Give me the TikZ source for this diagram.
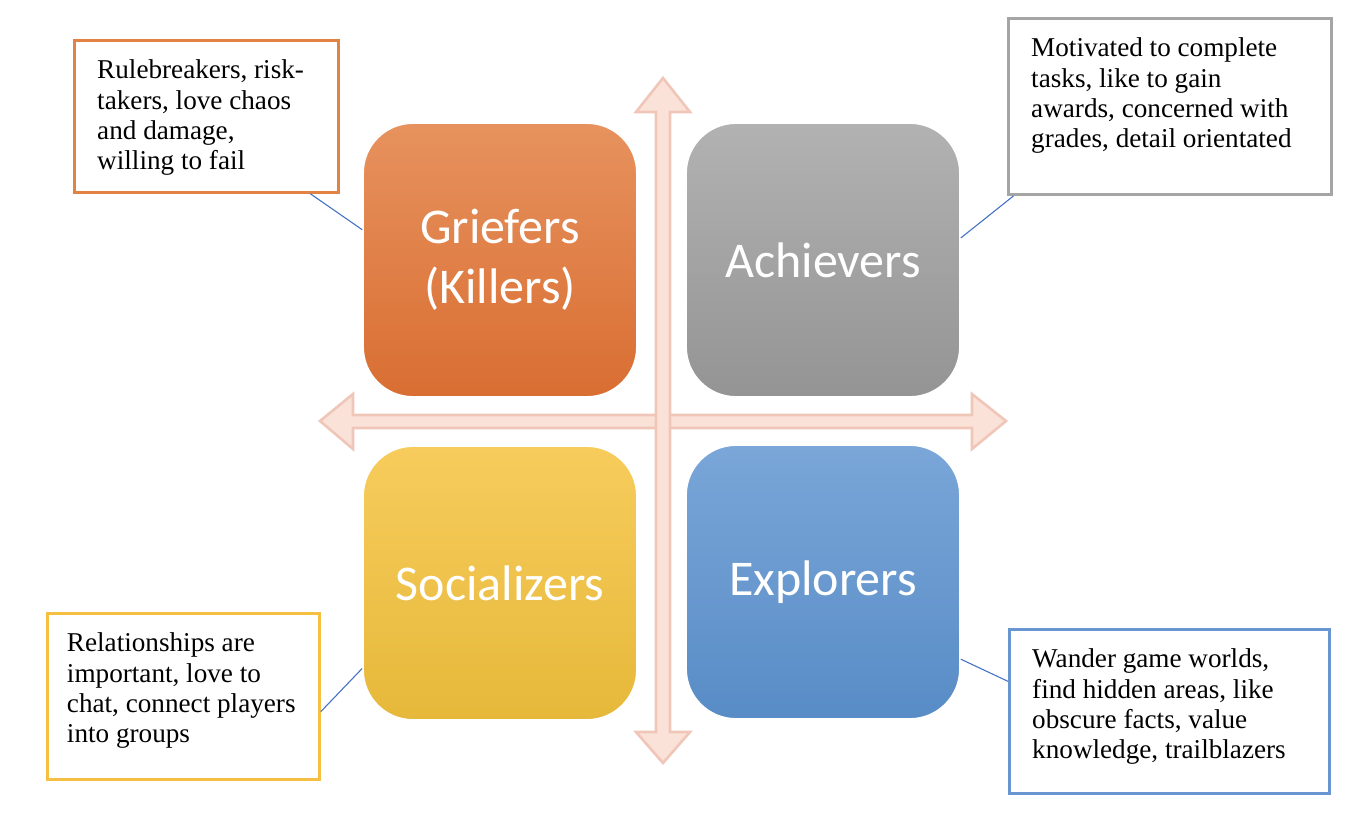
\documentclass[tikz,border=0pt]{standalone}
\usepackage{fontspec}
\setmainfont{Liberation Serif}
\newfontfamily\tilefont{Carlito}
\usepackage{tikz}
\usetikzlibrary{positioning,calc}

\definecolor{griefTop}{RGB}{231,146,94}
\definecolor{griefBot}{RGB}{217,110,50}
\definecolor{achvTop}{RGB}{178,178,178}
\definecolor{achvBot}{RGB}{148,148,148}
\definecolor{socTop}{RGB}{247,204,92}
\definecolor{socBot}{RGB}{230,184,58}
\definecolor{explTop}{RGB}{122,166,216}
\definecolor{explBot}{RGB}{88,140,198}
\definecolor{griefLine}{RGB}{226,130,68}
\definecolor{achvLine}{RGB}{165,165,165}
\definecolor{socLine}{RGB}{245,192,66}
\definecolor{explLine}{RGB}{105,150,208}
\definecolor{arrowFill}{RGB}{250,226,217}
\definecolor{arrowEdge}{RGB}{240,198,184}
\definecolor{linkBlue}{RGB}{68,114,196}

\newcommand{\tilenode}[5]{\node [tile, top color=#3, bottom color=#4] (#1) at (#2) {#5}}
\newcommand{\notenode}[6]{\node [note, #3] (#1) at (#2) {\parbox[t][#5][t]{#4}{\raggedright #6}}}

\begin{document}
\begin{tikzpicture}[x=0.46pt, y=-0.46pt,
  tile/.style={rounded corners=23pt, minimum width=126pt, minimum height=126pt,
    draw=white!40!#1, line width=0.8pt, text=white, align=center,
    font=\tilefont\fontsize{23}{27.6}\selectfont},
  note/.style={anchor=north west, fill=white, line width=1.3pt,
    inner xsep=10.5pt, inner ysep=9pt, font=\fontsize{12.5}{13.95}\selectfont},
  link/.style={draw=linkBlue, line width=0.5pt},
  axis/.style={fill=arrowFill, draw=arrowEdge, line width=1.2pt, line join=miter}]

\useasboundingbox (0,0) rectangle (1364,824);

% axes
\draw[axis] (320,421) -- (353,394) -- (353,415) -- (972,415) -- (972,394) -- (1006,421)
  -- (972,449) -- (972,428) -- (353,428) -- (353,449) -- cycle;
\draw[axis] (663,78) -- (690,112) -- (670,112) -- (670,732) -- (690,732) -- (663,763)
  -- (636,732) -- (656,732) -- (656,112) -- (636,112) -- cycle;

\tilenode{grief}{500,260}{griefTop}{griefBot}{Griefers\\(Killers)};
\tilenode{achv}{823,260}{achvTop}{achvBot}{Achievers};
\tilenode{soc}{500,583}{socTop}{socBot}{Socializers};
\tilenode{expl}{823,582}{explTop}{explBot}{Explorers};

\notenode{griefnote}{73,39}{draw=griefLine}{100.4pt}{51.9pt}{Rulebreakers, risk-\\takers, love chaos\\and damage,\\willing to fail};
\notenode{achvnote}{1007,17}{draw=achvLine}{127.6pt}{63pt}{Motivated to complete\\tasks, like to gain\\awards, concerned with\\grades, detail orientated};
\notenode{socnote}{46,612}{draw=socLine, inner xsep=9pt}{107.1pt}{58.4pt}{Relationships are\\important, love to\\chat, connect players\\into groups};
\notenode{explnote}{1008,628}{draw=explLine}{126.2pt}{57.4pt}{Wander game worlds,\\find hidden areas, like\\obscure facts, value\\knowledge, trailblazers};

\draw[link] ($(griefnote.south west)!0.89!(griefnote.south east)$) -- ($(grief.north west)!0.39!(grief.south west)$);
\draw[link] ($(achvnote.south west)!0.02!(achvnote.south east)$) -- ($(achv.north east)!0.42!(achv.south east)$);
\draw[link] ($(socnote.north east)!0.59!(socnote.south east)$) -- ($(soc.north west)!0.81!(soc.south west)$);
\draw[link] ($(explnote.north west)!0.32!(explnote.south west)$) -- ($(expl.north east)!0.78!(expl.south east)$);

\end{tikzpicture}
\end{document}
